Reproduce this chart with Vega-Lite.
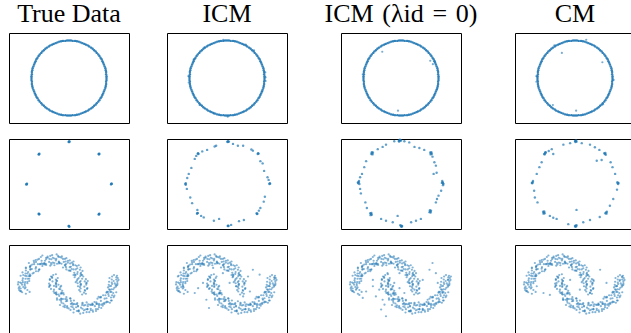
{
"$schema":"https://vega.github.io/schema/vega-lite/v6.json",
"background":"white",
"padding":{"left":8,"top":0,"right":0,"bottom":0},
"config":{
"view":{"stroke":"#000","strokeWidth":1},
"circle":{"color":"#1f77b4","opacity":0.6,"size":5},
"title":{"font":"Liberation Serif","fontSize":26,"fontWeight":"normal","color":"#000","offset":6}
},
"datasets":{
"circle":[{"x":1.00,"y":0.00},{"x":1.00,"y":0.05},{"x":0.99,"y":0.10},{"x":0.99,"y":0.16},{"x":0.98,"y":0.21},{"x":0.97,"y":0.26},{"x":0.95,"y":0.31},{"x":0.93,"y":0.36},{"x":0.91,"y":0.41},{"x":0.89,"y":0.45},{"x":0.87,"y":0.50},{"x":0.84,"y":0.54},{"x":0.81,"y":0.59},{"x":0.78,"y":0.63},{"x":0.74,"y":0.67},{"x":0.71,"y":0.71},{"x":0.67,"y":0.74},{"x":0.63,"y":0.78},{"x":0.59,"y":0.81},{"x":0.54,"y":0.84},{"x":0.50,"y":0.87},{"x":0.45,"y":0.89},{"x":0.41,"y":0.91},{"x":0.36,"y":0.93},{"x":0.31,"y":0.95},{"x":0.26,"y":0.97},{"x":0.21,"y":0.98},{"x":0.16,"y":0.99},{"x":0.10,"y":0.99},{"x":0.05,"y":1.00},
{"x":0.00,"y":1.00},{"x":-0.05,"y":1.00},{"x":-0.10,"y":0.99},{"x":-0.16,"y":0.99},{"x":-0.21,"y":0.98},{"x":-0.26,"y":0.97},{"x":-0.31,"y":0.95},{"x":-0.36,"y":0.93},{"x":-0.41,"y":0.91},{"x":-0.45,"y":0.89},{"x":-0.50,"y":0.87},{"x":-0.54,"y":0.84},{"x":-0.59,"y":0.81},{"x":-0.63,"y":0.78},{"x":-0.67,"y":0.74},{"x":-0.71,"y":0.71},{"x":-0.74,"y":0.67},{"x":-0.78,"y":0.63},{"x":-0.81,"y":0.59},{"x":-0.84,"y":0.54},{"x":-0.87,"y":0.50},{"x":-0.89,"y":0.45},{"x":-0.91,"y":0.41},{"x":-0.93,"y":0.36},{"x":-0.95,"y":0.31},{"x":-0.97,"y":0.26},{"x":-0.98,"y":0.21},{"x":-0.99,"y":0.16},{"x":-0.99,"y":0.10},{"x":-1.00,"y":0.05},
{"x":-1.00,"y":0.00},{"x":-1.00,"y":-0.05},{"x":-0.99,"y":-0.10},{"x":-0.99,"y":-0.16},{"x":-0.98,"y":-0.21},{"x":-0.97,"y":-0.26},{"x":-0.95,"y":-0.31},{"x":-0.93,"y":-0.36},{"x":-0.91,"y":-0.41},{"x":-0.89,"y":-0.45},{"x":-0.87,"y":-0.50},{"x":-0.84,"y":-0.54},{"x":-0.81,"y":-0.59},{"x":-0.78,"y":-0.63},{"x":-0.74,"y":-0.67},{"x":-0.71,"y":-0.71},{"x":-0.67,"y":-0.74},{"x":-0.63,"y":-0.78},{"x":-0.59,"y":-0.81},{"x":-0.54,"y":-0.84},{"x":-0.50,"y":-0.87},{"x":-0.45,"y":-0.89},{"x":-0.41,"y":-0.91},{"x":-0.36,"y":-0.93},{"x":-0.31,"y":-0.95},{"x":-0.26,"y":-0.97},{"x":-0.21,"y":-0.98},{"x":-0.16,"y":-0.99},{"x":-0.10,"y":-0.99},{"x":-0.05,"y":-1.00},
{"x":0.00,"y":-1.00},{"x":0.05,"y":-1.00},{"x":0.10,"y":-0.99},{"x":0.16,"y":-0.99},{"x":0.21,"y":-0.98},{"x":0.26,"y":-0.97},{"x":0.31,"y":-0.95},{"x":0.36,"y":-0.93},{"x":0.41,"y":-0.91},{"x":0.45,"y":-0.89},{"x":0.50,"y":-0.87},{"x":0.54,"y":-0.84},{"x":0.59,"y":-0.81},{"x":0.63,"y":-0.78},{"x":0.67,"y":-0.74},{"x":0.71,"y":-0.71},{"x":0.74,"y":-0.67},{"x":0.78,"y":-0.63},{"x":0.81,"y":-0.59},{"x":0.84,"y":-0.54},{"x":0.87,"y":-0.50},{"x":0.89,"y":-0.45},{"x":0.91,"y":-0.41},{"x":0.93,"y":-0.36},{"x":0.95,"y":-0.31},{"x":0.97,"y":-0.26},{"x":0.98,"y":-0.21},{"x":0.99,"y":-0.16},{"x":0.99,"y":-0.10},{"x":1.00,"y":-0.05}],
"circ_icm":[{"x":-1.03,"y":0.05},{"x":-1.02,"y":-0.12},{"x":1.03,"y":-0.08},{"x":1.02,"y":0.15},{"x":0.02,"y":-1.03},{"x":-0.10,"y":1.02},{"x":0.72,"y":0.74},{"x":-0.73,"y":-0.72},{"x":0.94,"y":-0.36},{"x":-0.35,"y":-0.95},{"x":0.50,"y":0.89},{"x":-0.89,"y":0.49},{"x":1.03,"y":0.02},{"x":-0.60,"y":0.82}],
"circ_l0":[{"x":-0.50,"y":0.70},{"x":0.78,"y":0.46},{"x":0.85,"y":0.37},{"x":-0.08,"y":-0.87},{"x":0.90,"y":0.45},{"x":0.96,"y":-0.30},{"x":-1.02,"y":0.10}],
"circ_cm":[{"x":-0.35,"y":0.67},{"x":0.73,"y":0.42},{"x":-0.59,"y":-0.72},{"x":0.03,"y":-0.87},{"x":-1.03,"y":0.05},{"x":-1.03,"y":-0.10},{"x":1.03,"y":-0.05},{"x":0.75,"y":-0.70},{"x":0.30,"y":1.02},{"x":-0.55,"y":0.87}],
"g8_true":[{"x":0.00,"y":1.13},{"x":0.01,"y":1.14},{"x":-0.01,"y":1.12},{"x":0.01,"y":1.12},{"x":0.80,"y":0.80},{"x":0.81,"y":0.81},{"x":0.79,"y":0.80},{"x":0.80,"y":0.79},{"x":1.13,"y":0.00},{"x":1.14,"y":0.01},{"x":1.12,"y":-0.01},{"x":1.13,"y":0.01},{"x":0.80,"y":-0.80},{"x":0.81,"y":-0.79},{"x":0.79,"y":-0.81},{"x":0.80,"y":-0.81},{"x":0.00,"y":-1.13},{"x":-0.01,"y":-1.12},{"x":0.01,"y":-1.14},{"x":0.00,"y":-1.12},{"x":-0.80,"y":-0.80},{"x":-0.79,"y":-0.80},{"x":-0.81,"y":-0.79},{"x":-0.80,"y":-0.81},{"x":-1.13,"y":0.00},{"x":-1.12,"y":0.01},{"x":-1.14,"y":-0.01},{"x":-1.13,"y":-0.01},{"x":-0.80,"y":0.80},{"x":-0.79,"y":0.81},{"x":-0.81,"y":0.79},{"x":-0.80,"y":0.79}],
"g8_icm":[{"x":0.03,"y":1.14},{"x":0.01,"y":1.13},{"x":0.05,"y":1.13},{"x":0.02,"y":1.12},{"x":0.16,"y":1.07},{"x":0.29,"y":1.02},{"x":0.43,"y":1.02},{"x":-0.33,"y":1.00},{"x":-0.29,"y":1.02},{"x":-0.53,"y":0.91},{"x":-0.66,"y":0.87},{"x":-0.77,"y":0.82},{"x":-0.76,"y":0.80},{"x":-0.78,"y":0.81},{"x":-0.82,"y":0.75},{"x":-0.86,"y":0.67},{"x":-0.95,"y":0.43},{"x":-1.02,"y":0.27},{"x":-1.06,"y":0.16},{"x":-1.10,"y":0.02},{"x":-1.11,"y":0.00},{"x":-1.10,"y":-0.02},{"x":-1.07,"y":-0.13},{"x":-0.98,"y":-0.36},{"x":-0.93,"y":-0.51},{"x":-0.79,"y":-0.69},{"x":-0.79,"y":-0.78},{"x":-0.78,"y":-0.77},{"x":-0.80,"y":-0.79},{"x":-0.69,"y":-0.85},{"x":-0.62,"y":-0.89},{"x":-0.35,"y":-0.98},{"x":-0.21,"y":-0.93},{"x":0.03,"y":-1.11},{"x":0.02,"y":-1.12},{"x":0.04,"y":-1.12},{"x":0.11,"y":-1.09},{"x":0.32,"y":-0.99},{"x":0.45,"y":-0.96},{"x":0.80,"y":-0.80},{"x":0.81,"y":-0.79},{"x":0.79,"y":-0.78},{"x":0.85,"y":-0.71},{"x":0.89,"y":-0.64},{"x":0.98,"y":-0.47},{"x":1.01,"y":-0.34},{"x":1.14,"y":0.02},{"x":1.13,"y":0.00},{"x":1.15,"y":0.01},{"x":1.11,"y":0.11},{"x":1.08,"y":0.18},{"x":0.99,"y":0.35},{"x":0.95,"y":0.55},{"x":0.89,"y":0.61},{"x":0.83,"y":0.82},{"x":0.82,"y":0.80},{"x":0.84,"y":0.81},{"x":0.69,"y":0.89},{"x":0.65,"y":0.92}],
"g8_l0":[{"x":-0.04,"y":1.17},{"x":-0.02,"y":1.16},{"x":-0.06,"y":1.15},{"x":-0.03,"y":1.18},{"x":0.00,"y":1.16},{"x":-0.05,"y":1.13},{"x":-0.18,"y":1.14},{"x":0.09,"y":1.14},{"x":0.22,"y":1.11},{"x":0.36,"y":0.99},{"x":0.49,"y":0.96},{"x":0.62,"y":0.91},{"x":0.80,"y":0.82},{"x":0.78,"y":0.84},{"x":0.82,"y":0.80},{"x":0.79,"y":0.79},{"x":0.81,"y":0.85},{"x":0.84,"y":0.73},{"x":0.89,"y":0.58},{"x":0.93,"y":0.49},{"x":0.87,"y":0.27},{"x":0.95,"y":0.30},{"x":1.11,"y":0.05},{"x":1.12,"y":0.02},{"x":1.10,"y":0.08},{"x":1.13,"y":0.00},{"x":1.09,"y":0.03},{"x":1.12,"y":-0.03},{"x":1.07,"y":-0.18},{"x":1.00,"y":-0.31},{"x":0.93,"y":-0.49},{"x":0.96,"y":-0.40},{"x":0.78,"y":-0.73},{"x":0.76,"y":-0.75},{"x":0.80,"y":-0.71},{"x":0.77,"y":-0.70},{"x":0.79,"y":-0.76},{"x":0.53,"y":-0.93},{"x":0.40,"y":-0.98},{"x":0.27,"y":-1.02},{"x":0.00,"y":-1.11},{"x":0.02,"y":-1.13},{"x":-0.02,"y":-1.10},{"x":0.01,"y":-1.14},{"x":0.03,"y":-1.12},{"x":-0.22,"y":-1.02},{"x":-0.40,"y":-0.98},{"x":-0.53,"y":-0.93},{"x":-0.09,"y":-0.85},{"x":-0.80,"y":-0.80},{"x":-0.78,"y":-0.82},{"x":-0.82,"y":-0.78},{"x":-0.79,"y":-0.77},{"x":-0.81,"y":-0.83},{"x":-0.91,"y":-0.64},{"x":-0.95,"y":-0.49},{"x":-1.13,"y":0.05},{"x":-1.14,"y":0.02},{"x":-1.12,"y":0.08},{"x":-1.15,"y":0.04},{"x":-1.11,"y":0.00},{"x":-1.09,"y":0.18},{"x":-1.09,"y":-0.13},{"x":-1.07,"y":-0.25},{"x":-1.04,"y":0.27},{"x":-0.98,"y":0.45},{"x":-0.93,"y":0.61},{"x":-0.77,"y":0.82},{"x":-0.79,"y":0.80},{"x":-0.75,"y":0.84},{"x":-0.78,"y":0.85},{"x":-0.76,"y":0.79},{"x":-0.62,"y":0.93},{"x":-0.49,"y":0.99},{"x":-0.40,"y":1.05}],
"g8_cm":[{"x":0.02,"y":1.14},{"x":0.00,"y":1.15},{"x":0.04,"y":1.13},{"x":0.01,"y":1.12},{"x":0.03,"y":1.16},{"x":-0.13,"y":1.09},{"x":-0.31,"y":1.05},{"x":0.18,"y":1.09},{"x":0.40,"y":1.05},{"x":0.53,"y":0.98},{"x":-0.80,"y":0.82},{"x":-0.82,"y":0.80},{"x":-0.78,"y":0.84},{"x":-0.81,"y":0.79},{"x":-0.79,"y":0.85},{"x":-0.62,"y":0.93},{"x":-0.58,"y":0.80},{"x":-0.70,"y":0.88},{"x":-0.89,"y":0.58},{"x":-0.95,"y":0.45},{"x":-1.02,"y":0.27},{"x":-1.13,"y":0.05},{"x":-1.14,"y":0.02},{"x":-1.12,"y":0.08},{"x":-1.15,"y":0.03},{"x":-1.09,"y":-0.18},{"x":-1.07,"y":-0.36},{"x":-1.00,"y":-0.49},{"x":-0.83,"y":-0.76},{"x":-0.85,"y":-0.74},{"x":-0.81,"y":-0.78},{"x":-0.84,"y":-0.79},{"x":-0.82,"y":-0.73},{"x":-0.67,"y":-0.85},{"x":-0.49,"y":-0.93},{"x":-0.58,"y":-0.90},{"x":0.02,"y":-1.11},{"x":0.00,"y":-1.12},{"x":0.04,"y":-1.10},{"x":0.01,"y":-1.14},{"x":0.03,"y":-1.13},{"x":-0.18,"y":-1.07},{"x":0.22,"y":-1.02},{"x":0.40,"y":-0.96},{"x":0.83,"y":-0.76},{"x":0.85,"y":-0.74},{"x":0.81,"y":-0.78},{"x":0.84,"y":-0.79},{"x":0.93,"y":-0.58},{"x":1.02,"y":-0.40},{"x":0.66,"y":-0.88},{"x":1.14,"y":0.02},{"x":1.15,"y":0.00},{"x":1.13,"y":0.05},{"x":1.16,"y":0.03},{"x":1.07,"y":0.27},{"x":1.00,"y":0.45},{"x":0.95,"y":0.58},{"x":1.12,"y":-0.15},{"x":0.80,"y":0.80},{"x":0.82,"y":0.78},{"x":0.78,"y":0.82},{"x":0.81,"y":0.83},{"x":0.65,"y":0.91},{"x":0.58,"y":0.62},{"x":0.71,"y":0.64},{"x":0.04,"y":-0.69}],
"moons":[{"x":0.42,"y":0.00},{"x":0.29,"y":0.08},{"x":0.47,"y":0.19},{"x":0.31,"y":0.24},{"x":0.38,"y":0.36},{"x":0.15,"y":0.34},{"x":0.23,"y":0.48},{"x":0.22,"y":0.58},{"x":0.07,"y":0.56},{"x":0.12,"y":0.76},{"x":-0.08,"y":0.61},{"x":-0.09,"y":0.76},{"x":-0.20,"y":0.70},{"x":-0.24,"y":0.88},{"x":-0.35,"y":0.79},{"x":-0.43,"y":0.86},{"x":-0.50,"y":0.65},{"x":-0.61,"y":0.82},{"x":-0.65,"y":0.68},{"x":-0.80,"y":0.83},{"x":-0.83,"y":0.69},{"x":-0.88,"y":0.61},{"x":-1.02,"y":0.65},{"x":-0.94,"y":0.46},{"x":-1.09,"y":0.48},{"x":-1.24,"y":0.47},{"x":-1.10,"y":0.30},{"x":-1.24,"y":0.26},{"x":-1.18,"y":0.16},{"x":-1.32,"y":0.09},{"x":-1.11,"y":0.00},
{"x":0.31,"y":0.04},{"x":0.46,"y":0.14},{"x":0.23,"y":0.18},{"x":0.35,"y":0.30},{"x":0.35,"y":0.40},{"x":0.17,"y":0.39},{"x":0.31,"y":0.60},{"x":0.12,"y":0.55},{"x":0.11,"y":0.66},{"x":-0.07,"y":0.55},{"x":-0.03,"y":0.78},{"x":-0.14,"y":0.75},{"x":-0.24,"y":0.72},{"x":-0.29,"y":0.91},{"x":-0.39,"y":0.72},{"x":-0.47,"y":0.82},{"x":-0.57,"y":0.89},{"x":-0.61,"y":0.67},{"x":-0.73,"y":0.78},{"x":-0.78,"y":0.69},{"x":-0.94,"y":0.78},{"x":-0.89,"y":0.57},{"x":-1.04,"y":0.61},{"x":-0.97,"y":0.44},{"x":-1.11,"y":0.44},{"x":-1.22,"y":0.40},{"x":-1.06,"y":0.24},{"x":-1.23,"y":0.21},{"x":-1.18,"y":0.12},{"x":-1.34,"y":0.05},
{"x":0.27,"y":0.00},{"x":0.41,"y":0.09},{"x":0.32,"y":0.16},{"x":0.45,"y":0.29},{"x":0.23,"y":0.29},{"x":0.31,"y":0.43},{"x":0.12,"y":0.40},{"x":0.18,"y":0.55},{"x":0.17,"y":0.66},{"x":0.02,"y":0.61},{"x":0.02,"y":0.79},{"x":-0.16,"y":0.60},{"x":-0.16,"y":0.83},{"x":-0.27,"y":0.76},{"x":-0.33,"y":0.95},{"x":-0.43,"y":0.73},{"x":-0.52,"y":0.83},{"x":-0.61,"y":0.86},{"x":-0.66,"y":0.71},{"x":-0.71,"y":0.64},{"x":-0.89,"y":0.80},{"x":-0.93,"y":0.69},{"x":-0.88,"y":0.50},{"x":-1.03,"y":0.54},{"x":-1.15,"y":0.52},{"x":-1.07,"y":0.37},{"x":-1.29,"y":0.38},{"x":-1.11,"y":0.22},{"x":-1.27,"y":0.18},{"x":-1.22,"y":0.08},{"x":-1.33,"y":0.00},
{"x":0.49,"y":0.05},{"x":0.31,"y":0.12},{"x":0.42,"y":0.23},{"x":0.21,"y":0.25},{"x":0.30,"y":0.37},{"x":0.36,"y":0.51},{"x":0.14,"y":0.46},{"x":0.21,"y":0.64},{"x":-0.01,"y":0.52},{"x":0.03,"y":0.71},{"x":-0.08,"y":0.69},{"x":-0.11,"y":0.83},{"x":-0.19,"y":0.90},{"x":-0.32,"y":0.70},{"x":-0.39,"y":0.84},{"x":-0.47,"y":0.68},{"x":-0.57,"y":0.86},{"x":-0.64,"y":0.78},{"x":-0.70,"y":0.69},{"x":-0.84,"y":0.81},{"x":-0.79,"y":0.55},{"x":-0.98,"y":0.68},{"x":-0.99,"y":0.56},{"x":-1.15,"y":0.58},{"x":-1.03,"y":0.39},{"x":-1.17,"y":0.38},{"x":-1.23,"y":0.31},{"x":-1.11,"y":0.18},{"x":-1.36,"y":0.15},{"x":-1.18,"y":0.04},
{"x":0.43,"y":-0.02},{"x":0.24,"y":0.10},{"x":0.46,"y":0.18},{"x":0.29,"y":0.21},{"x":0.26,"y":0.32},{"x":0.32,"y":0.46},{"x":0.22,"y":0.43},{"x":0.26,"y":0.66},{"x":0.02,"y":0.52},{"x":0.11,"y":0.69},{"x":-0.03,"y":0.73},{"x":-0.10,"y":0.65},{"x":-0.20,"y":0.86},{"x":-0.27,"y":0.71},{"x":-0.34,"y":0.83},{"x":-0.45,"y":0.93},{"x":-0.48,"y":0.72},{"x":-0.62,"y":0.70},{"x":-0.71,"y":0.92},{"x":-0.73,"y":0.71},{"x":-0.88,"y":0.75},{"x":-0.80,"y":0.54},{"x":-1.07,"y":0.72},{"x":-1.03,"y":0.56},{"x":-1.05,"y":0.42},{"x":-1.16,"y":0.44},{"x":-1.06,"y":0.30},{"x":-1.17,"y":0.21},{"x":-1.35,"y":0.21},{"x":-1.16,"y":0.07},{"x":-1.28,"y":-0.03},
{"x":0.48,"y":0.03},{"x":0.31,"y":0.15},{"x":0.50,"y":0.24},{"x":0.18,"y":0.21},{"x":0.33,"y":0.40},{"x":0.16,"y":0.41},{"x":0.29,"y":0.54},{"x":0.04,"y":0.51},{"x":0.05,"y":0.62},{"x":0.08,"y":0.73},{"x":-0.11,"y":0.67},{"x":-0.07,"y":0.85},{"x":-0.27,"y":0.74},{"x":-0.28,"y":0.88},{"x":-0.39,"y":0.66},{"x":-0.50,"y":0.91},{"x":-0.53,"y":0.75},{"x":-0.66,"y":0.71},{"x":-0.75,"y":0.88},{"x":-0.76,"y":0.69},{"x":-0.93,"y":0.74},{"x":-0.82,"y":0.50},{"x":-1.04,"y":0.63},{"x":-1.15,"y":0.60},{"x":-1.04,"y":0.37},{"x":-1.13,"y":0.37},{"x":-1.16,"y":0.30},{"x":-1.30,"y":0.20},{"x":-1.25,"y":0.14},{"x":-1.29,"y":0.04},
{"x":-1.25,"y":-0.06},{"x":-1.15,"y":-0.10},{"x":-1.30,"y":-0.03},{"x":-1.05,"y":-0.05},{"x":0.40,"y":-0.07},{"x":0.30,"y":-0.04},{"x":0.45,"y":-0.10},{"x":0.35,"y":-0.12},
{"x":-0.45,"y":0.32},{"x":-0.32,"y":0.24},{"x":-0.50,"y":0.13},{"x":-0.34,"y":0.08},{"x":-0.41,"y":-0.04},{"x":-0.18,"y":-0.02},{"x":-0.26,"y":-0.16},{"x":-0.25,"y":-0.26},{"x":-0.10,"y":-0.24},{"x":-0.15,"y":-0.44},{"x":0.05,"y":-0.29},{"x":0.06,"y":-0.44},{"x":0.17,"y":-0.38},{"x":0.21,"y":-0.56},{"x":0.32,"y":-0.47},{"x":0.40,"y":-0.54},{"x":0.47,"y":-0.33},{"x":0.58,"y":-0.50},{"x":0.62,"y":-0.36},{"x":0.77,"y":-0.51},{"x":0.80,"y":-0.37},{"x":0.85,"y":-0.29},{"x":0.99,"y":-0.33},{"x":0.91,"y":-0.14},{"x":1.06,"y":-0.16},{"x":1.21,"y":-0.15},{"x":1.07,"y":0.02},{"x":1.21,"y":0.06},{"x":1.15,"y":0.16},{"x":1.29,"y":0.23},{"x":1.08,"y":0.32},
{"x":1.14,"y":0.28},{"x":1.29,"y":0.18},{"x":1.06,"y":0.14},{"x":1.18,"y":0.02},{"x":1.18,"y":-0.08},{"x":1.00,"y":-0.07},{"x":1.14,"y":-0.28},{"x":0.95,"y":-0.23},{"x":0.94,"y":-0.34},{"x":0.76,"y":-0.23},{"x":0.80,"y":-0.46},{"x":0.69,"y":-0.43},{"x":0.59,"y":-0.40},{"x":0.54,"y":-0.59},{"x":0.44,"y":-0.40},{"x":0.36,"y":-0.50},{"x":0.26,"y":-0.57},{"x":0.22,"y":-0.35},{"x":0.10,"y":-0.46},{"x":0.05,"y":-0.37},{"x":-0.11,"y":-0.46},{"x":-0.06,"y":-0.25},{"x":-0.21,"y":-0.29},{"x":-0.14,"y":-0.12},{"x":-0.28,"y":-0.12},{"x":-0.39,"y":-0.08},{"x":-0.23,"y":0.08},{"x":-0.40,"y":0.11},{"x":-0.35,"y":0.20},{"x":-0.51,"y":0.27},
{"x":-0.30,"y":0.32},{"x":-0.44,"y":0.23},{"x":-0.35,"y":0.16},{"x":-0.48,"y":0.03},{"x":-0.26,"y":0.03},{"x":-0.34,"y":-0.11},{"x":-0.15,"y":-0.08},{"x":-0.21,"y":-0.23},{"x":-0.20,"y":-0.34},{"x":-0.05,"y":-0.29},{"x":-0.05,"y":-0.47},{"x":0.13,"y":-0.28},{"x":0.13,"y":-0.51},{"x":0.24,"y":-0.44},{"x":0.30,"y":-0.63},{"x":0.40,"y":-0.41},{"x":0.49,"y":-0.51},{"x":0.58,"y":-0.54},{"x":0.63,"y":-0.39},{"x":0.68,"y":-0.32},{"x":0.86,"y":-0.48},{"x":0.90,"y":-0.37},{"x":0.85,"y":-0.18},{"x":1.00,"y":-0.22},{"x":1.12,"y":-0.20},{"x":1.04,"y":-0.05},{"x":1.26,"y":-0.06},{"x":1.08,"y":0.10},{"x":1.24,"y":0.14},{"x":1.19,"y":0.24},{"x":1.30,"y":0.32},
{"x":1.32,"y":0.27},{"x":1.14,"y":0.20},{"x":1.25,"y":0.09},{"x":1.04,"y":0.07},{"x":1.13,"y":-0.05},{"x":1.19,"y":-0.19},{"x":0.97,"y":-0.14},{"x":1.04,"y":-0.32},{"x":0.82,"y":-0.20},{"x":0.86,"y":-0.39},{"x":0.75,"y":-0.37},{"x":0.72,"y":-0.51},{"x":0.64,"y":-0.58},{"x":0.51,"y":-0.38},{"x":0.44,"y":-0.52},{"x":0.36,"y":-0.36},{"x":0.26,"y":-0.54},{"x":0.19,"y":-0.46},{"x":0.13,"y":-0.37},{"x":-0.01,"y":-0.49},{"x":0.04,"y":-0.23},{"x":-0.15,"y":-0.36},{"x":-0.16,"y":-0.24},{"x":-0.32,"y":-0.26},{"x":-0.20,"y":-0.07},{"x":-0.34,"y":-0.06},{"x":-0.40,"y":0.01},{"x":-0.28,"y":0.14},{"x":-0.53,"y":0.17},{"x":-0.35,"y":0.28},
{"x":1.26,"y":0.34},{"x":1.07,"y":0.22},{"x":1.29,"y":0.14},{"x":1.12,"y":0.11},{"x":1.09,"y":0.00},{"x":1.15,"y":-0.14},{"x":1.05,"y":-0.11},{"x":1.09,"y":-0.34},{"x":0.85,"y":-0.20},{"x":0.94,"y":-0.37},{"x":0.80,"y":-0.41},{"x":0.73,"y":-0.33},{"x":0.63,"y":-0.54},{"x":0.56,"y":-0.39},{"x":0.49,"y":-0.51},{"x":0.38,"y":-0.61},{"x":0.35,"y":-0.40},{"x":0.21,"y":-0.38},{"x":0.12,"y":-0.60},{"x":0.10,"y":-0.39},{"x":-0.05,"y":-0.43},{"x":0.03,"y":-0.22},{"x":-0.24,"y":-0.40},{"x":-0.20,"y":-0.24},{"x":-0.22,"y":-0.10},{"x":-0.33,"y":-0.12},{"x":-0.23,"y":0.02},{"x":-0.34,"y":0.11},{"x":-0.52,"y":0.11},{"x":-0.33,"y":0.25},{"x":-0.45,"y":0.35},
{"x":-0.51,"y":0.29},{"x":-0.34,"y":0.17},{"x":-0.53,"y":0.08},{"x":-0.21,"y":0.11},{"x":-0.36,"y":-0.08},{"x":-0.19,"y":-0.09},{"x":-0.32,"y":-0.22},{"x":-0.07,"y":-0.19},{"x":-0.08,"y":-0.30},{"x":-0.11,"y":-0.41},{"x":0.08,"y":-0.35},{"x":0.04,"y":-0.53},{"x":0.24,"y":-0.42},{"x":0.25,"y":-0.56},{"x":0.36,"y":-0.34},{"x":0.47,"y":-0.59},{"x":0.50,"y":-0.43},{"x":0.63,"y":-0.39},{"x":0.72,"y":-0.56},{"x":0.73,"y":-0.37},{"x":0.90,"y":-0.42},{"x":0.79,"y":-0.18},{"x":1.01,"y":-0.31},{"x":1.12,"y":-0.28},{"x":1.01,"y":-0.05},{"x":1.10,"y":-0.05},{"x":1.13,"y":0.02},{"x":1.27,"y":0.12},{"x":1.22,"y":0.18},{"x":1.26,"y":0.28},
{"x":-0.42,"y":0.40},{"x":-0.35,"y":0.42},{"x":-0.48,"y":0.36},{"x":1.20,"y":0.40},{"x":1.28,"y":0.38},{"x":1.15,"y":0.36}],
"moon_icm":[{"x":-0.64,"y":0.19},{"x":-0.46,"y":0.05},{"x":-0.55,"y":-0.26},{"x":-0.48,"y":-0.48},{"x":-0.19,"y":-0.08},{"x":0.07,"y":0.19},{"x":0.25,"y":0.10},{"x":0.43,"y":-0.17},{"x":0.61,"y":-0.04},{"x":0.69,"y":0.54},{"x":0.56,"y":0.36},{"x":0.87,"y":0.41},{"x":-0.28,"y":0.36},{"x":-0.11,"y":0.45},{"x":0.16,"y":0.36},{"x":-0.86,"y":-0.08},{"x":-0.77,"y":0.05},{"x":-1.17,"y":0.10},{"x":-1.31,"y":0.36},{"x":0.29,"y":-0.30},{"x":-0.37,"y":0.59},{"x":-0.03,"y":-0.26},{"x":0.96,"y":-0.26},{"x":1.14,"y":0.10},{"x":1.27,"y":0.32}],
"moon_l0":[{"x":-0.75,"y":0.10},{"x":-0.58,"y":0.01},{"x":-0.67,"y":-0.17},{"x":-0.49,"y":-0.26},{"x":-0.53,"y":-0.52},{"x":-0.31,"y":0.27},{"x":-0.18,"y":0.19},{"x":-0.04,"y":-0.26},{"x":0.22,"y":0.19},{"x":0.36,"y":0.01},{"x":0.49,"y":-0.08},{"x":0.58,"y":0.27},{"x":0.76,"y":0.54},{"x":0.93,"y":0.45},{"x":0.98,"y":0.19},{"x":0.71,"y":-0.26},{"x":0.22,"y":-0.57},{"x":-0.44,"y":-0.39},{"x":-1.02,"y":-0.21},{"x":-1.11,"y":-0.13},{"x":-1.20,"y":0.01},{"x":-0.84,"y":0.54},{"x":0.09,"y":-0.08},{"x":-0.04,"y":0.05},{"x":-0.27,"y":0.01},{"x":-0.36,"y":0.45},{"x":0.40,"y":0.45},{"x":1.02,"y":-0.26},{"x":0.84,"y":0.72},{"x":1.11,"y":-0.08},{"x":1.25,"y":0.27},{"x":1.33,"y":0.36},{"x":-0.40,"y":-0.70},{"x":0.58,"y":-0.52},{"x":-0.04,"y":0.45},{"x":-0.75,"y":0.27},{"x":0.13,"y":-0.26},{"x":-0.18,"y":-0.13},{"x":0.27,"y":-0.35},{"x":-0.93,"y":-0.04}],
"moon_cm":[{"x":-1.02,"y":0.10},{"x":-0.67,"y":-0.13},{"x":-0.49,"y":0.19},{"x":-0.13,"y":0.27},{"x":0.13,"y":0.01},{"x":0.40,"y":-0.08},{"x":0.67,"y":0.54},{"x":0.84,"y":0.19},{"x":0.49,"y":0.27},{"x":-0.84,"y":-0.08},{"x":-0.31,"y":-0.26},{"x":1.11,"y":0.10},{"x":1.20,"y":0.27},{"x":1.25,"y":0.36}]
},
"hconcat":[
{"vconcat":[
{"title":"True Data","width":120,"height":90,"data":{"name":"circle"},"mark":{"type":"circle","opacity":0.9,"size":6},"encoding":{"x":{"field":"x","type":"quantitative","scale":{"domain":[-1.6,1.6],"nice":false,"zero":false},"axis":null},"y":{"field":"y","type":"quantitative","scale":{"domain":[-1.2,1.2],"nice":false,"zero":false},"axis":null}}},
{"width":120,"height":90,"data":{"name":"g8_true"},"mark":{"type":"circle","opacity":0.7,"size":6},"encoding":{"x":{"field":"x","type":"quantitative","scale":{"domain":[-1.6,1.6],"nice":false,"zero":false},"axis":null},"y":{"field":"y","type":"quantitative","scale":{"domain":[-1.2,1.2],"nice":false,"zero":false},"axis":null}}},
{"width":120,"height":90,"data":{"name":"moons"},"mark":{"type":"circle","opacity":0.55,"size":5},"encoding":{"x":{"field":"x","type":"quantitative","scale":{"domain":[-1.6,1.6],"nice":false,"zero":false},"axis":null},"y":{"field":"y","type":"quantitative","scale":{"domain":[-1.2,1.2],"nice":false,"zero":false},"axis":null}}}
],"spacing":14},
{"vconcat":[
{"title":"ICM","width":120,"height":90,"encoding":{"x":{"field":"x","type":"quantitative","scale":{"domain":[-1.6,1.6],"nice":false,"zero":false},"axis":null},"y":{"field":"y","type":"quantitative","scale":{"domain":[-1.2,1.2],"nice":false,"zero":false},"axis":null}},"layer":[{"data":{"name":"circle"},"mark":{"type":"circle","opacity":0.9,"size":6}},{"data":{"name":"circ_icm"},"mark":{"type":"circle","opacity":0.6,"size":5}}]},
{"width":120,"height":90,"data":{"name":"g8_icm"},"mark":{"type":"circle","opacity":0.7,"size":6},"encoding":{"x":{"field":"x","type":"quantitative","scale":{"domain":[-1.6,1.6],"nice":false,"zero":false},"axis":null},"y":{"field":"y","type":"quantitative","scale":{"domain":[-1.2,1.2],"nice":false,"zero":false},"axis":null}}},
{"width":120,"height":90,"encoding":{"x":{"field":"x","type":"quantitative","scale":{"domain":[-1.6,1.6],"nice":false,"zero":false},"axis":null},"y":{"field":"y","type":"quantitative","scale":{"domain":[-1.2,1.2],"nice":false,"zero":false},"axis":null}},"layer":[{"data":{"name":"moons"},"mark":{"type":"circle","opacity":0.55,"size":5}},{"data":{"name":"moon_icm"},"mark":{"type":"circle","opacity":0.55,"size":5}}]}
],"spacing":14},
{"vconcat":[
{"title":"ICM\u2004(λid\u2004=\u20040)","width":120,"height":90,"encoding":{"x":{"field":"x","type":"quantitative","scale":{"domain":[-1.6,1.6],"nice":false,"zero":false},"axis":null},"y":{"field":"y","type":"quantitative","scale":{"domain":[-1.2,1.2],"nice":false,"zero":false},"axis":null}},"layer":[{"data":{"name":"circle"},"mark":{"type":"circle","opacity":0.9,"size":6}},{"data":{"name":"circ_l0"},"mark":{"type":"circle","opacity":0.6,"size":5}}]},
{"width":120,"height":90,"data":{"name":"g8_l0"},"mark":{"type":"circle","opacity":0.7,"size":6},"encoding":{"x":{"field":"x","type":"quantitative","scale":{"domain":[-1.6,1.6],"nice":false,"zero":false},"axis":null},"y":{"field":"y","type":"quantitative","scale":{"domain":[-1.2,1.2],"nice":false,"zero":false},"axis":null}}},
{"width":120,"height":90,"encoding":{"x":{"field":"x","type":"quantitative","scale":{"domain":[-1.6,1.6],"nice":false,"zero":false},"axis":null},"y":{"field":"y","type":"quantitative","scale":{"domain":[-1.2,1.2],"nice":false,"zero":false},"axis":null}},"layer":[{"data":{"name":"moons"},"mark":{"type":"circle","opacity":0.55,"size":5}},{"data":{"name":"moon_l0"},"mark":{"type":"circle","opacity":0.55,"size":5}}]}
],"spacing":14},
{"vconcat":[
{"title":"CM","width":120,"height":90,"encoding":{"x":{"field":"x","type":"quantitative","scale":{"domain":[-1.6,1.6],"nice":false,"zero":false},"axis":null},"y":{"field":"y","type":"quantitative","scale":{"domain":[-1.2,1.2],"nice":false,"zero":false},"axis":null}},"layer":[{"data":{"name":"circle"},"mark":{"type":"circle","opacity":0.9,"size":6}},{"data":{"name":"circ_cm"},"mark":{"type":"circle","opacity":0.6,"size":5}}]},
{"width":120,"height":90,"data":{"name":"g8_cm"},"mark":{"type":"circle","opacity":0.7,"size":6},"encoding":{"x":{"field":"x","type":"quantitative","scale":{"domain":[-1.6,1.6],"nice":false,"zero":false},"axis":null},"y":{"field":"y","type":"quantitative","scale":{"domain":[-1.2,1.2],"nice":false,"zero":false},"axis":null}}},
{"width":120,"height":90,"encoding":{"x":{"field":"x","type":"quantitative","scale":{"domain":[-1.6,1.6],"nice":false,"zero":false},"axis":null},"y":{"field":"y","type":"quantitative","scale":{"domain":[-1.2,1.2],"nice":false,"zero":false},"axis":null}},"layer":[{"data":{"name":"moons"},"mark":{"type":"circle","opacity":0.55,"size":5}},{"data":{"name":"moon_cm"},"mark":{"type":"circle","opacity":0.55,"size":5}}]}
],"spacing":14}
],
"spacing":36
}
